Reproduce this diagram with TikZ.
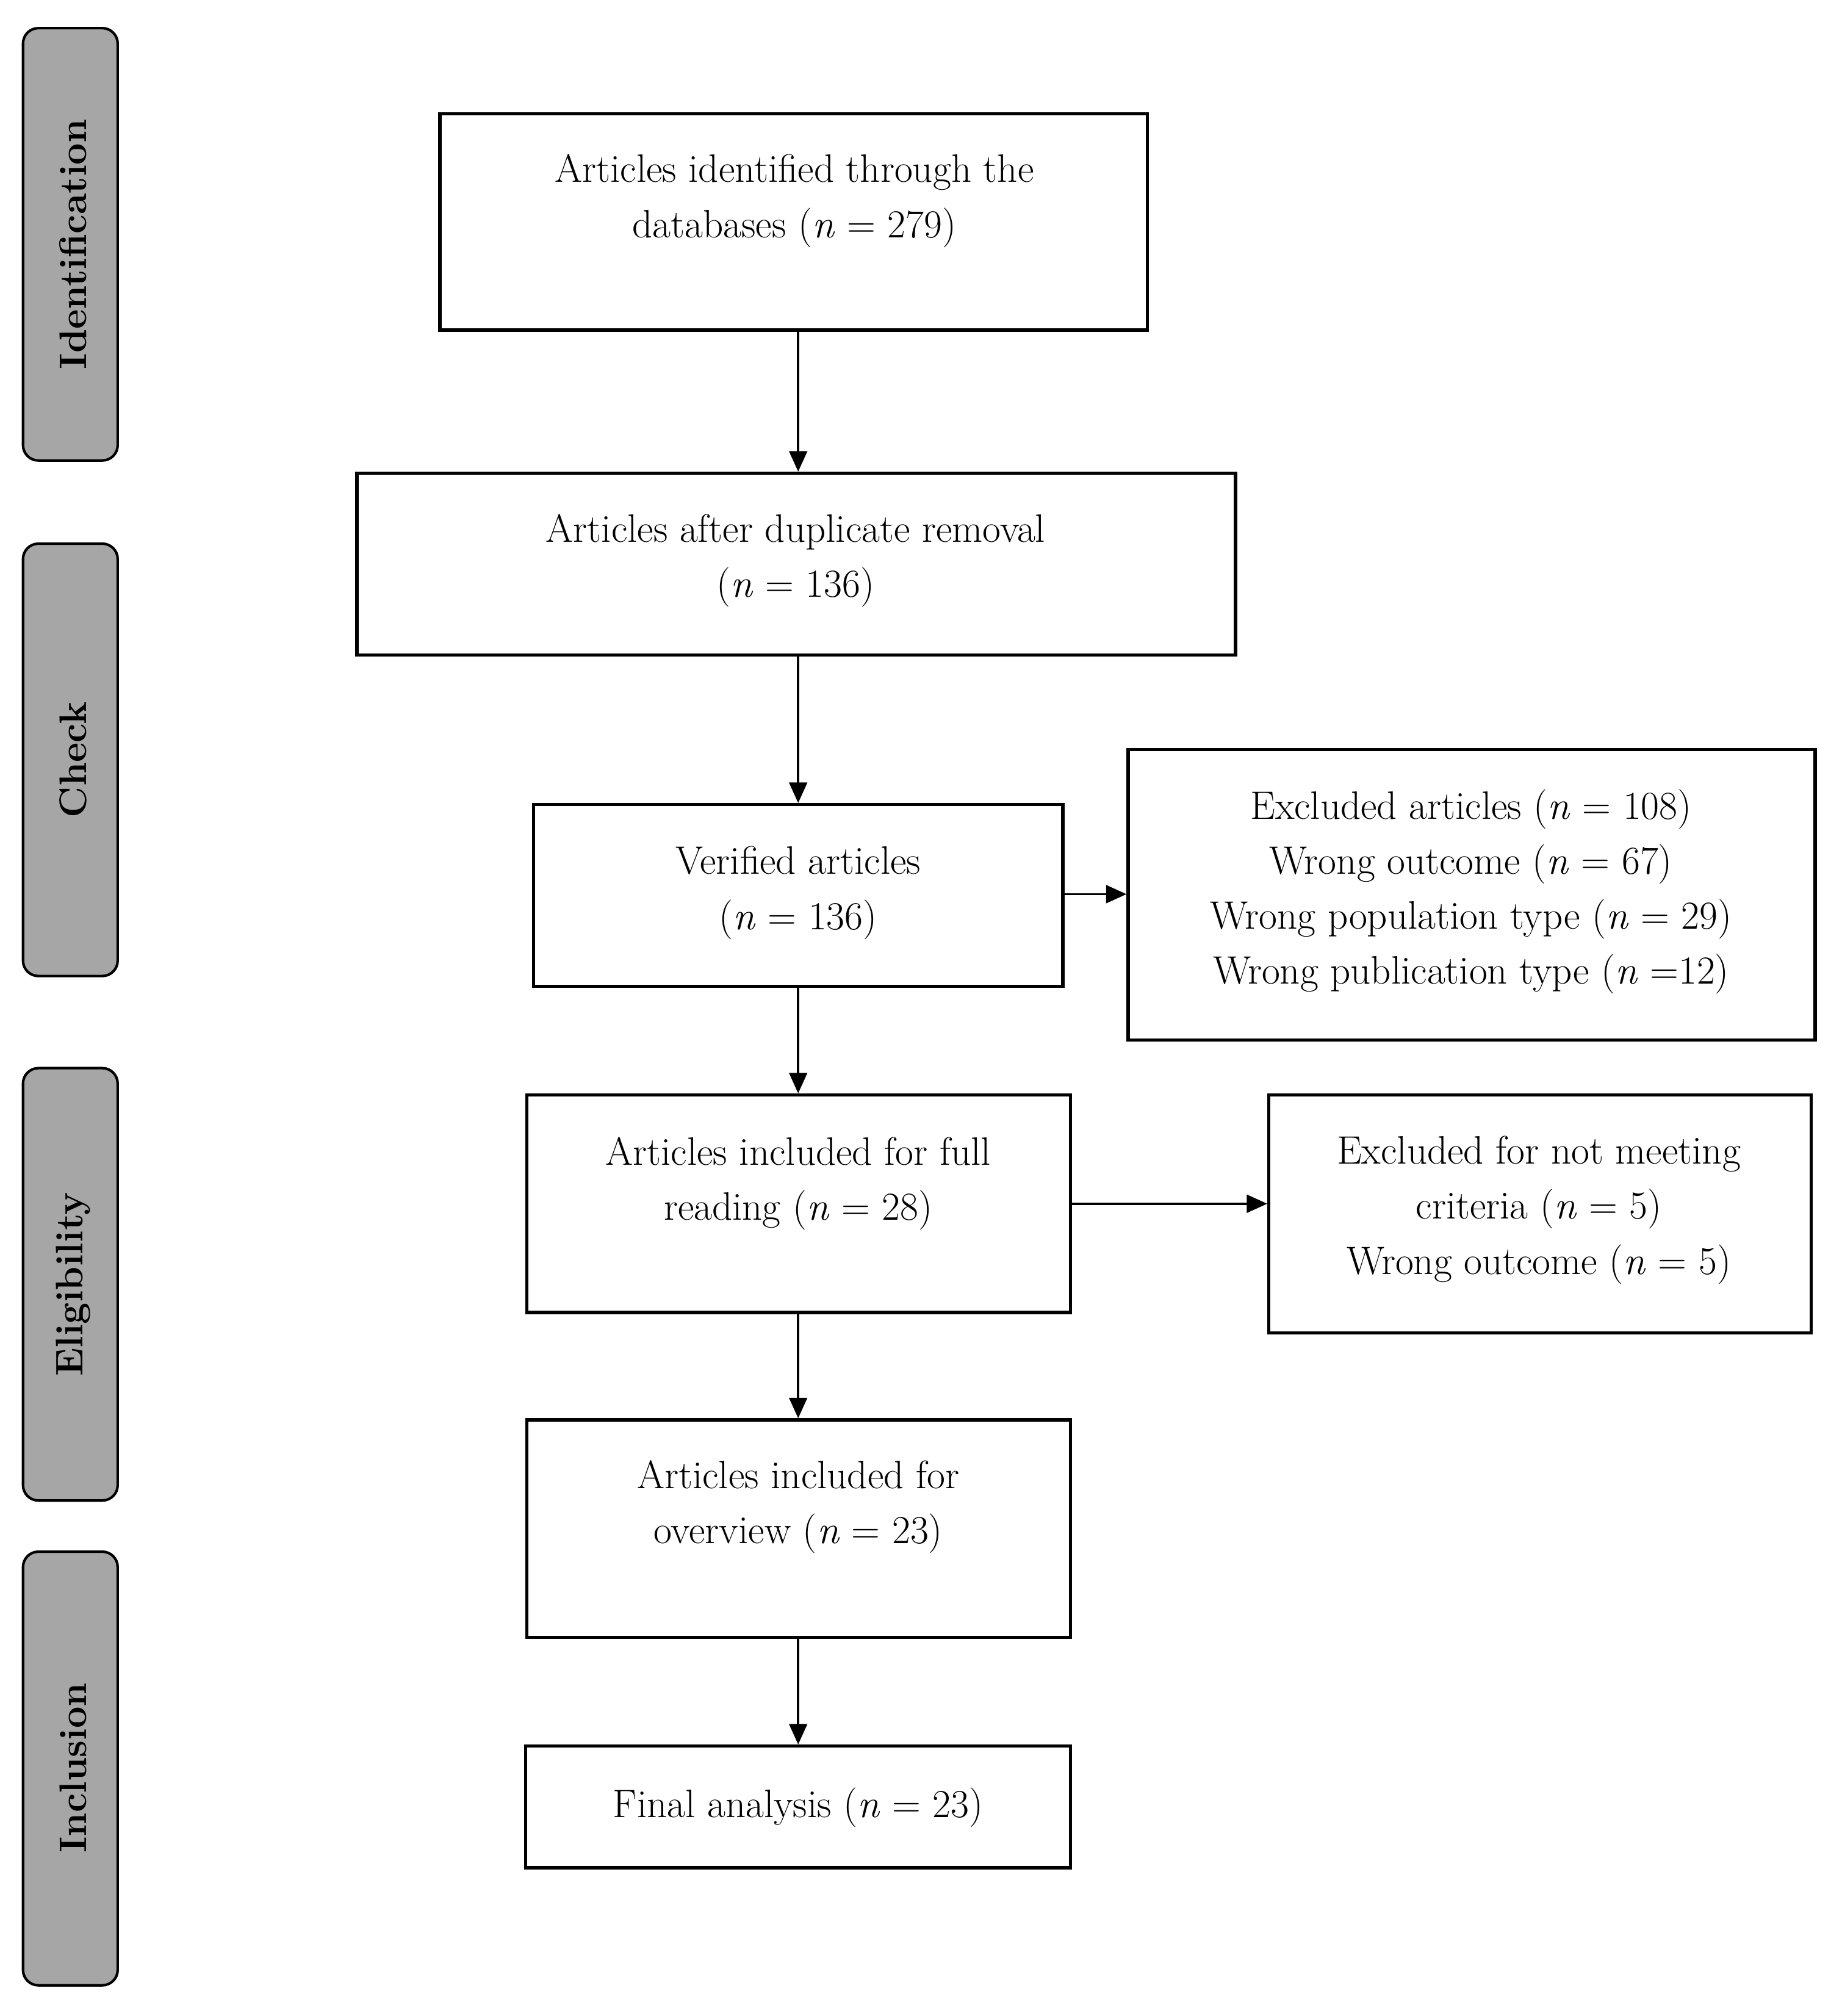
\documentclass[tikz,border=0pt]{standalone}
\usetikzlibrary{arrows.meta}
\begin{document}
\begin{tikzpicture}[x=1pt,y=-1pt,
  box/.style={draw,line width=2.6pt,inner sep=0pt},
  txt/.style={align=center,font=\fontsize{31}{43}\selectfont,inner sep=0pt},
  side/.style={draw,line width=2pt,fill=gray!70,rounded corners=12pt},
  sidet/.style={rotate=90,font=\fontsize{30}{34}\selectfont\bfseries},
  arr/.style={line width=1.8pt,-{Triangle[length=16pt,width=14pt]}}]
\useasboundingbox (0,0) rectangle (1440,1576);
\newcommand{\bx}[5]{\node[box,minimum width={#4-#2},minimum height={#5-#3}] (#1) at ({(#2+#4)/2},{(#3+#5)/2}) {};}
\newcommand{\nn}{\textit{n}}
% side bars
\draw[side] (18,22) rectangle (92,360); \node[sidet] (s1) at (57,191) {Identification};
\draw[side] (18,425) rectangle (92,763); \node[sidet] (s2) at (57,594) {Check};
\draw[side] (18,835) rectangle (92,1173); \node[sidet] (s3) at (57,1004) {Eligibility};
\draw[side] (18,1213) rectangle (92,1552); \node[sidet] (s4) at (57,1382) {Inclusion};
% boxes
\bx{b1}{344}{89}{897}{258}
\bx{b2}{279}{370}{966}{512}
\bx{b3}{417}{629}{831}{771}
\bx{b4}{882}{586}{1419}{813}
\bx{b5}{412}{856}{837}{1026}
\bx{b6}{992}{856}{1416}{1042}
\bx{b7}{412}{1110}{837}{1280}
\bx{b8}{411}{1365}{837}{1460}
% texts
\node[txt] (t1) at (621,157) {Articles identified through the\\databases (\nn{} = 279)};
\node[txt] (t2) at (622,438) {Articles after duplicate removal\\(\nn{} = 136)};
\node[txt] (t3) at (624,698) {Verified articles\\(\nn{} = 136)};
\node[txt] (t4) at (1150,697) {Excluded articles (\nn{} = 108)\\Wrong outcome (\nn{} = 67)\\Wrong population type (\nn{} = 29)\\Wrong publication type (\nn{} =12)};
\node[txt] (t5) at (624,925) {Articles included for full\\reading (\nn{} = 28)};
\node[txt] (t6) at (1203,946) {Excluded for not meeting\\criteria (\nn{} = 5)\\Wrong outcome (\nn{} = 5)};
\node[txt] (t7) at (624,1178) {Articles included for\\overview (\nn{} = 23)};
\node[txt] (t8) at (624,1413) {Final analysis (\nn{} = 23)};
% arrows
\draw[arr] (b1.south -| 624,0) -- (b2.north -| 624,0);
\draw[arr] (b2.south -| 624,0) -- (b3.north -| 624,0);
\draw[arr] (b3.south -| 624,0) -- (b5.north -| 624,0);
\draw[arr] (b5.south -| 624,0) -- (b7.north -| 624,0);
\draw[arr] (b7.south -| 624,0) -- (b8.north -| 624,0);
\draw[arr] (b3.east |- 0,699) -- (b4.west |- 0,699);
\draw[arr] (b5.east |- 0,941) -- (b6.west |- 0,941);
\end{tikzpicture}
\end{document}
